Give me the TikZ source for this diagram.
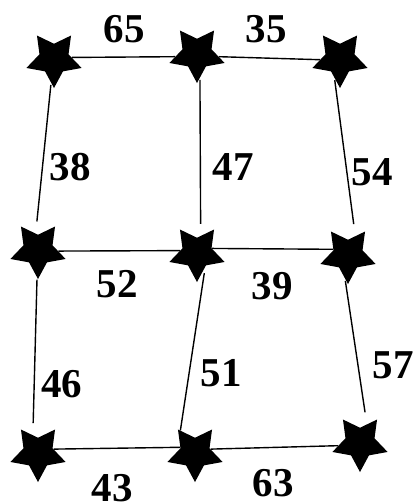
\documentclass[tikz,border=0pt]{standalone}
\usepackage{fontspec}
\setmainfont{Liberation Serif}
\usetikzlibrary{shapes.geometric}

\tikzset{
  vertex/.style={star, star points=5, star point ratio=1.9, shape border rotate=180,
    fill=black, inner sep=0pt, minimum size=58pt},
  edge/.style={line width=1.4pt},
  vedge/.style={edge, shorten <=2pt, shorten >=12pt},
  weight/.style={inner sep=0pt, font=\fontsize{41}{41}\selectfont\bfseries}
}

\begin{document}
\begin{tikzpicture}[x=1pt, y=-1pt]
  \useasboundingbox (0,0) rectangle (415,504);

  % vertices
  \node[vertex] (a) at (54,59) {};
  \node[vertex] (b) at (197,54) {};
  \node[vertex] (c) at (340,59) {};
  \node[vertex] (d) at (38,250) {};
  \node[vertex] (e) at (197,253) {};
  \node[vertex] (f) at (348,255) {};
  \node[vertex] (g) at (38,453) {};
  \node[vertex] (h) at (195,453) {};
  \node[vertex] (i) at (360,443) {};

  % edges
  \draw[edge] (a.5) -- (b.187);
  \draw[edge] (b.-7) -- (c.182);
  \draw[vedge] (a.-97) -- (d.98);
  \draw[vedge] (b.-83) -- (e.78);
  \draw[vedge] (c.-106) -- (f.69);
  \draw[edge] (d.-3) -- (e.172);
  \draw[edge] (e.17) -- (f.159);
  \draw[vedge] (d.-92) -- (g.106);
  \draw[edge, shorten <=6pt] (e.-60) -- (h.123);
  \draw[vedge] (f.-97) -- (i.70);
  \draw[edge] (g.14) -- (h.159);
  \draw[edge] (h.14) -- (i.187);

  % weights
  \node[weight] (w65) at (124,29) {65};
  \node[weight] (w35) at (266,29) {35};
  \node[weight] (w38) at (70,167) {38};
  \node[weight] (w47) at (233,167) {47};
  \node[weight] (w54) at (372,172) {54};
  \node[weight] (w52) at (117,284) {52};
  \node[weight] (w39) at (272,286) {39};
  \node[weight] (w46) at (62,384) {46};
  \node[weight] (w51) at (221,373) {51};
  \node[weight] (w57) at (393,365) {57};
  \node[weight] (w43) at (112,488) {43};
  \node[weight] (w63) at (273,483) {63};
\end{tikzpicture}
\end{document}
